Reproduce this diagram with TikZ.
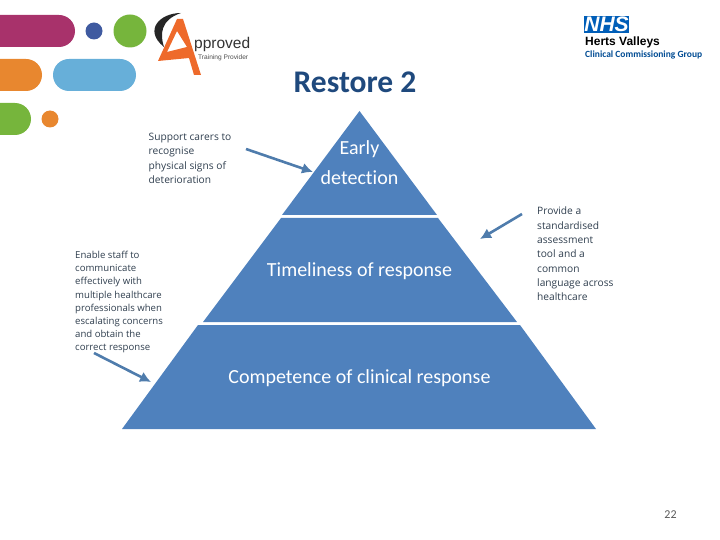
\documentclass[tikz,border=0pt]{standalone}
\usepackage{fontspec}
\usetikzlibrary{arrows.meta}
\setmainfont{Carlito}[Ligatures=CommonOff]
\newfontfamily\notefont{Open Sans}
\newfontfamily\logofont{Liberation Sans}
\definecolor{tierblue}{HTML}{4F81BD}
\definecolor{titleblue}{HTML}{1F497D}
\definecolor{arrowblue}{HTML}{4F7CAC}
\definecolor{notegrey}{HTML}{2F3E4E}
\definecolor{plum}{HTML}{A8326B}
\definecolor{dotblue}{HTML}{3F5AA0}
\definecolor{leafgreen}{HTML}{76B53C}
\definecolor{amber}{HTML}{E8872F}
\definecolor{skyblue}{HTML}{67AFD9}
\definecolor{logoorange}{HTML}{EE6A2B}
\definecolor{nhsblue}{HTML}{005EB8}
\tikzset{
  tier/.style={fill=tierblue,draw=none},
  tierlabel/.style={text=white,font=\fontsize{20}{30}\selectfont,align=center},
  note/.style={text=notegrey,anchor=north west,align=left,inner sep=0pt,
    font=\notefont\fontsize{10.2}{14.3}\selectfont},
  tightnote/.style={note,font=\notefont\fontsize{9.6}{13.2}\selectfont},
  pointer/.style={draw=arrowblue,line width=2.6pt,-{Latex[length=11pt,width=11pt]}},
}

\begin{document}
\begin{tikzpicture}[x=1pt,y=-1pt]
%% Page frame, same size as the slide.
\useasboundingbox (0,0) rectangle (720,540);

%% Rounded bar
%% 4 params : left, right, top, colour.
\newcommand{\slidebar}[4]{
\fill[#4,rounded corners=16pt] (#1,#3) rectangle (#2,#3+32);
}

%% Corner decoration
\slidebar{-30}{75}{15}{plum}
\slidebar{-30}{42}{59}{amber}
\slidebar{53}{136}{59}{skyblue}
\slidebar{-30}{31}{103}{leafgreen}
\fill[dotblue] (94,31) circle[radius=8.5];
\fill[leafgreen] (130,31) circle[radius=16.5];
\fill[amber] (50,119) circle[radius=8.5];

%% Training provider logo
\fill[black!85] (181,13) .. controls (160,13) and (143,30) .. (164,47)
.. controls (160,35) and (160,20) .. (181,13) -- cycle;
\fill[logoorange,even odd rule] (177,19) -- (183,19) -- (201,75) -- (194,75) -- (189,58)
-- (158,61) -- cycle
(177,31) -- (167,52) -- (187,47) -- cycle;
\node[inner sep=0pt,anchor=base west,font=\logofont\fontsize{15.5}{16}\selectfont,text=black!80] (approved) at (194,49) {pproved};
\node[inner sep=0pt,anchor=base west,font=\logofont\fontsize{6.6}{6}\selectfont,text=black!70] (provider) at (198,60) {Training Provider};

%% NHS logo
\node[fill=nhsblue,text=white,inner sep=0pt,minimum width=45pt,minimum height=17pt,
  font=\logofont\bfseries\itshape\fontsize{21}{21}\selectfont] (nhs) at (606.5,24.5) {NHS};
\node[inner sep=0pt,anchor=base west,font=\logofont\bfseries\fontsize{12}{12}\selectfont] (herts) at (585,46) {Herts Valleys};
\node[inner sep=0pt,anchor=base west,text=nhsblue!80!black,font=\bfseries\fontsize{9.5}{10}\selectfont] (ccg) at (585,57.5) {Clinical Commissioning Group};

\node[text=titleblue,font=\bfseries\fontsize{31.5}{32}\selectfont] (title) at (355,82) {Restore 2};

%% Pyramid, three tiers.
\fill[tier] (359.5,111) -- (437,215) -- (282,215) -- cycle;
\fill[tier] (281,218) -- (438,218) -- (517,322) -- (203,322) -- cycle;
\fill[tier] (198,325) -- (520,325) -- (596,429) -- (122,429) -- cycle;

\node[tierlabel] (early) at (359.5,163) {Early\\detection};
\node[tierlabel] (timely) at (359.5,271) {Timeliness of response};
\node[tierlabel] (skill) at (359.5,378) {Competence of clinical response};

%% Notes beside the pyramid
\node[note] (carers) at (148.5,133) {Support carers to\\recognise\\physical signs of\\deterioration};
\node[tightnote] (staff) at (75,251) {Enable staff to\\communicate\\effectively with\\multiple healthcare\\professionals when\\escalating concerns\\and obtain the\\correct response};
\node[note] (tool) at (537,207) {Provide a\\standardised\\assessment\\tool and a\\common\\language across\\healthcare};

%% Arrows from the notes
\coordinate (carersfrom) at (246,149);
\coordinate (carersto) at (313,172);
\coordinate (stafffrom) at (94,353);
\coordinate (staffto) at (151,382);
\coordinate (toolfrom) at (522,214);
\coordinate (toolto) at (480,239);
\draw[pointer] (carersfrom) -- (carersto);
\draw[pointer] (stafffrom) -- (staffto);
\draw[pointer] (toolfrom) -- (toolto);

\node[text=black!65,font=\fontsize{12}{12}\selectfont] (page) at (670.5,515) {22};
\end{tikzpicture}
\end{document}
